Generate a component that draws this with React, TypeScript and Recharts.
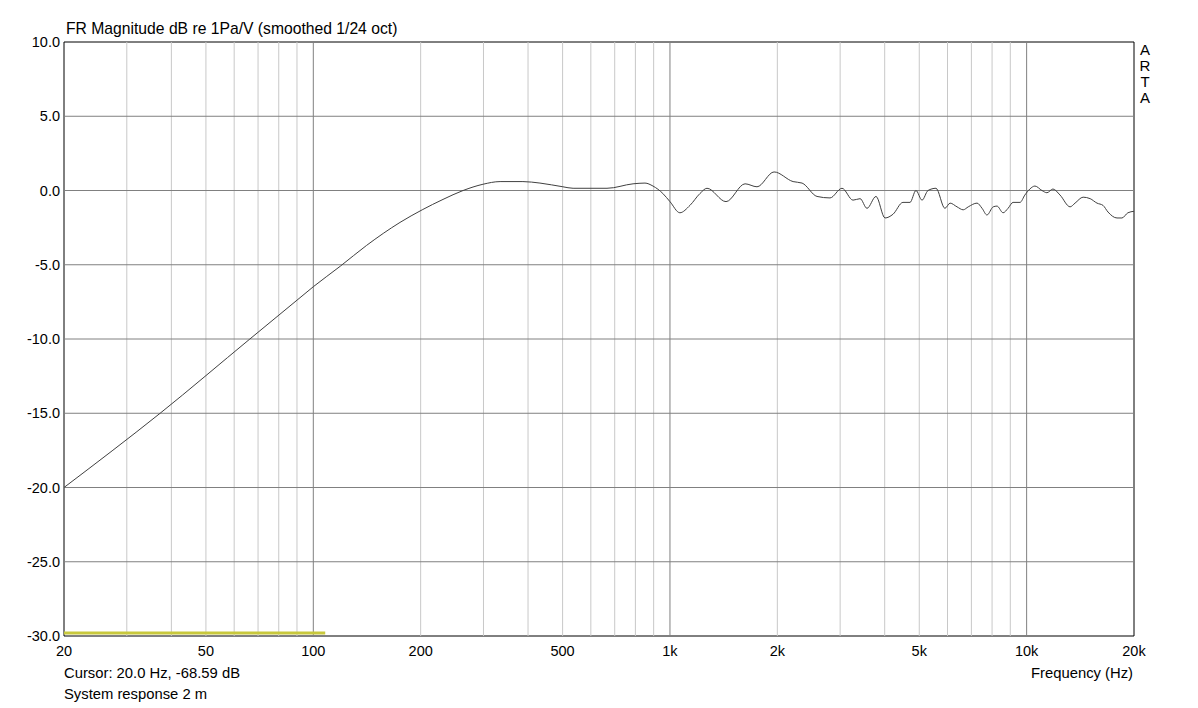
import React from 'react';
import { LineChart, Line, XAxis, YAxis, ReferenceLine, ReferenceArea } from 'recharts';

const freqs = [
  20, 37.2, 66.4, 90.6, 100, 119, 141, 175, 202, 231, 263, 299, 334, 387, 432, 501, 535, 666, 788,
  851, 896, 955, 1000, 1066, 1138, 1214, 1270, 1436, 1624, 1754, 1958, 2214, 2346, 2584, 2810, 3036,
  3260, 3412, 3568, 3782, 4008, 4220, 4500, 4710, 4894, 5090, 5290, 5570, 5900, 6100, 6380, 6640,
  6860, 7260, 7500, 7740, 8060, 8260, 8590, 8870, 9160, 9580, 9890, 10210, 10550, 11040, 11400,
  11850, 12400, 13240, 13670, 14400, 15070, 15750, 16370, 16910, 17920, 18500, 19230, 20000,
];
const magnitude = [
  -20.0, -15.0, -10.0, -7.33, -6.48, -5.1, -3.7, -2.15, -1.3, -0.6, 0.0, 0.42, 0.6, 0.6, 0.5, 0.25,
  0.15, 0.15, 0.45, 0.5, 0.3, -0.2, -0.75, -1.5, -1.0, -0.2, 0.15, -0.75, 0.45, 0.25, 1.25, 0.6,
  0.5, -0.4, -0.5, 0.15, -0.65, -0.55, -1.2, -0.4, -1.85, -1.6, -0.8, -0.8, 0.0, -0.65, 0.0, 0.15,
  -1.2, -0.85, -1.1, -1.3, -1.1, -0.85, -1.2, -1.65, -1.1, -1.05, -1.5, -1.2, -0.8, -0.8, -0.3,
  0.1, 0.3, 0.0, -0.15, 0.1, -0.3, -1.1, -0.85, -0.45, -0.55, -0.85, -1.0, -1.45, -1.85, -1.85,
  -1.5, -1.4,
];

// cursor marker at the bottom
const cursorFreqs = [20, 108];
const cursorLevel = [-29.8, -29.8];

const xTicks = [20, 50, 100, 200, 500, 1000, 2000, 5000, 10000, 20000];
const yTicks = [-30, -25, -20, -15, -10, -5, 0, 5, 10];
const minorGrid = [30, 40, 50, 60, 70, 80, 90, 200, 300, 400, 500, 600, 700, 800, 900,
  2000, 3000, 4000, 5000, 6000, 7000, 8000, 9000];
const majorGrid = [100, 1000, 10000];
const levelGrid = [-25, -20, -15, -10, -5, 0, 5];

const response = freqs.map((f, i) => ({ f, db: magnitude[i] }));
const cursor = cursorFreqs.map((f, i) => ({ f, db: cursorLevel[i] }));

const font = '"Liberation Sans", Arial, sans-serif';
const fmtFreq = (v: number) => (v >= 1000 ? `${v / 1000}k` : `${v}`);

const App: React.FC = () => {
  const txt: React.CSSProperties = { position: 'absolute', fontFamily: font, fontSize: 14.8, color: '#000', whiteSpace: 'nowrap' };
  return (
    <div style={{ position: 'absolute', left: 0, top: 0, width: 1198, height: 708, background: '#fff' }}>
      <div style={{ ...txt, left: 66, top: 20, fontSize: 15.7 }}>FR Magnitude dB re 1Pa/V (smoothed 1/24 oct)</div>
      <div style={{ ...txt, left: 1139, top: 42, fontSize: 15, lineHeight: '16px', width: 12, textAlign: 'center' }}>
        A<br />R<br />T<br />A
      </div>
      <div style={{ ...txt, left: 64, top: 665 }}>Cursor: 20.0 Hz, -68.59 dB</div>
      <div style={{ ...txt, left: 64, top: 686 }}>System response 2 m</div>
      <div style={{ ...txt, right: 1198 - 1133, top: 665 }}>Frequency (Hz)</div>
      <LineChart width={1198} height={708} margin={{ top: 42, right: 64, left: 0, bottom: 42 }}>
        <XAxis
          dataKey="f"
          type="number"
          scale="log"
          domain={[20, 20000]}
          ticks={xTicks}
          tickFormatter={fmtFreq}
          allowDataOverflow
          axisLine={false}
          tickLine={false}
          tickSize={0}
          tickMargin={10}
          height={30}
          tick={{ fontFamily: font, fontSize: 14.5, fill: '#000' }}
        />
        <YAxis
          type="number"
          domain={[-30, 10]}
          ticks={yTicks}
          tickFormatter={(v: number) => v.toFixed(1)}
          allowDataOverflow
          axisLine={false}
          tickLine={false}
          tickSize={0}
          tickMargin={4}
          width={64}
          tick={{ fontFamily: font, fontSize: 14.5, fill: '#000' }}
        />
        {minorGrid.map((v) => (
          <ReferenceLine key={`mi${v}`} x={v} stroke="#c8c8c8" strokeWidth={1} />
        ))}
        {majorGrid.map((v) => (
          <ReferenceLine key={`ma${v}`} x={v} stroke="#808080" strokeWidth={1} />
        ))}
        {levelGrid.map((v) => (
          <ReferenceLine key={`h${v}`} y={v} stroke="#808080" strokeWidth={1} />
        ))}
        <ReferenceArea x1={20} x2={20000} y1={-30} y2={10} fill="none" stroke="#000" strokeWidth={1} />
        <Line
          data={cursor}
          dataKey="db"
          type="linear"
          stroke="#c8c83c"
          strokeWidth={3}
          dot={false}
          isAnimationActive={false}
        />
        <Line
          data={response}
          dataKey="db"
          type="monotone"
          stroke="#404040"
          strokeWidth={1}
          dot={false}
          isAnimationActive={false}
        />
      </LineChart>
    </div>
  );
};

export default App;
